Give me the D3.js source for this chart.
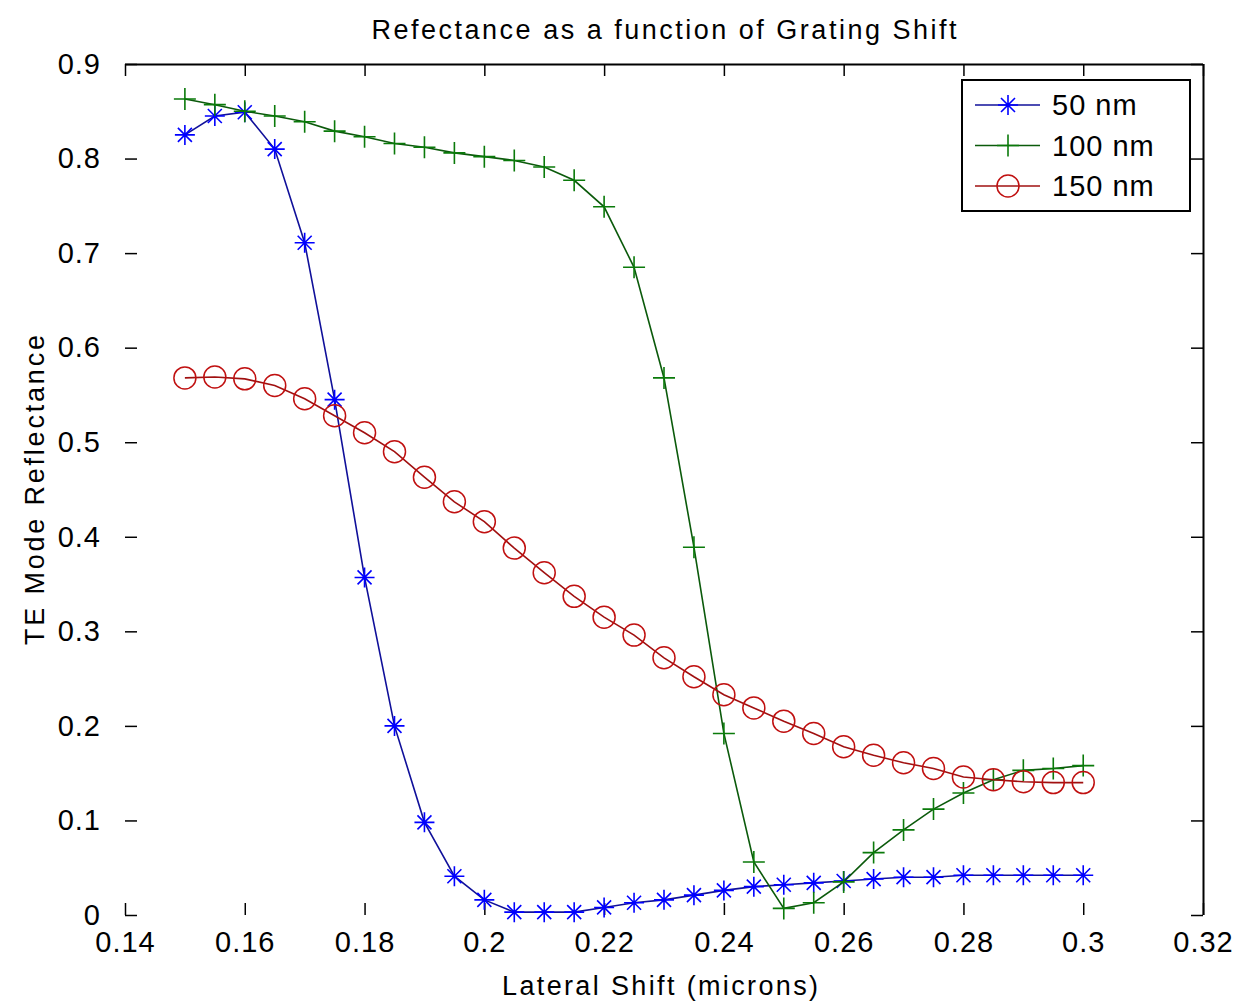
<!DOCTYPE html>
<html><head><meta charset="utf-8">
<script src="https://cdn.jsdelivr.net/npm/d3@7"></script>
<style>
html,body{margin:0;padding:0;background:#fff;}
svg{display:block;font-family:"Liberation Sans",Arial,sans-serif;}
</style></head>
<body><svg id="c" width="1238" height="1002"></svg>
<script>
const shifts = [0.15,0.155,0.16,0.165,0.17,0.175,0.18,0.185,0.19,0.195,0.2,0.205,0.21,0.215,0.22,0.225,0.23,0.235,0.24,0.245,0.25,0.255,0.26,0.265,0.27,0.275,0.28,0.285,0.29,0.295,0.3];
const r50  = [0.825,0.845,0.849,0.810,0.711,0.545,0.357,0.200,0.098,0.041,0.016,0.003,0.003,0.003,0.008,0.013,0.016,0.021,0.026,0.030,0.032,0.034,0.036,0.038,0.040,0.040,0.042,0.042,0.042,0.042,0.042];
const r100 = [0.863,0.857,0.850,0.845,0.839,0.829,0.823,0.816,0.812,0.806,0.802,0.798,0.791,0.777,0.749,0.685,0.568,0.389,0.192,0.056,0.007,0.013,0.035,0.066,0.090,0.112,0.129,0.143,0.153,0.155,0.158];
const r150 = [0.568,0.569,0.567,0.560,0.546,0.528,0.510,0.490,0.463,0.437,0.416,0.388,0.362,0.337,0.315,0.296,0.272,0.252,0.233,0.219,0.205,0.192,0.178,0.169,0.161,0.155,0.146,0.143,0.141,0.140,0.140];
const seriesNames = ["50 nm","100 nm","150 nm"];
const xTicks = [0.14,0.16,0.18,0.2,0.22,0.24,0.26,0.28,0.3,0.32];
const yTicks = [0,0.1,0.2,0.3,0.4,0.5,0.6,0.7,0.8,0.9];
const titleText = "Refectance as a function of Grating Shift";
const xLabel = "Lateral Shift (microns)";
const yLabel = "TE Mode Reflectance";

const L=125,R=1203,T=64,B=915;
const svg = d3.select("#c");
const x = d3.scaleLinear().domain([0.14,0.32]).range([L,R]);
const y = d3.scaleLinear().domain([0,0.9]).range([B,T]);
const fmt = d => String(+d.toFixed(2));

const series = [
  {name:seriesNames[0], vals:r50, color:"#0000ff", line:"#10109a", marker:"star"},
  {name:seriesNames[1], vals:r100, color:"#0a7a0a", line:"#0b5a0b", marker:"plus"},
  {name:seriesNames[2], vals:r150, color:"#c01010", line:"#a01010", marker:"circle"}
];

function drawMarker(g, type, cx, cy, color){
  if(type==="circle"){
    g.append("circle").attr("cx",cx).attr("cy",cy).attr("r",11)
      .attr("fill","none").attr("stroke",color).attr("stroke-width",1.5);
  } else if(type==="plus"){
    const s=11;
    g.append("path").attr("d",`M${cx-s},${cy}H${cx+s}M${cx},${cy-s}V${cy+s}`)
      .attr("stroke",color).attr("stroke-width",1.6).attr("fill","none");
  } else {
    const s=10, d=7;
    g.append("path").attr("d",`M${cx-s},${cy}H${cx+s}M${cx},${cy-s}V${cy+s}M${cx-d},${cy-d}L${cx+d},${cy+d}M${cx-d},${cy+d}L${cx+d},${cy-d}`)
      .attr("stroke",color).attr("stroke-width",1.6).attr("fill","none");
  }
}

// axes ticks (inward), top and right lines
const axL = svg.append("g").attr("transform",`translate(${L},0)`)
  .call(d3.axisLeft(y).tickValues(yTicks).tickSize(-12).tickPadding(22).tickFormat(fmt));
axL.select(".domain").remove();
const axB = svg.append("g").attr("transform",`translate(0,${B})`)
  .call(d3.axisBottom(x).tickValues(xTicks).tickSize(-12).tickPadding(16).tickFormat(fmt));
axB.select(".domain").remove();
const axT = svg.append("g").attr("transform",`translate(0,${T})`)
  .call(d3.axisTop(x).tickValues(xTicks).tickSize(-12).tickFormat(""));
axT.select(".domain").attr("d",`M${L},0.5H${R}`);
const axR = svg.append("g").attr("transform",`translate(${R},0)`)
  .call(d3.axisRight(y).tickValues(yTicks).tickSize(-12).tickFormat(""));
axR.select(".domain").attr("d",`M0.5,${T}V${B}`);
[axL,axB,axT,axR].forEach(a=>{
  a.selectAll("line").attr("stroke","#000").attr("stroke-width",1.5);
  a.selectAll(".domain").attr("stroke","#000").attr("stroke-width",2);
  a.selectAll("text").attr("font-size",29).attr("fill","#000")
   .attr("letter-spacing",1)
   .attr("font-family","'Liberation Sans',Arial,sans-serif");
});
axL.selectAll("text").attr("dx",-2);

// series
const lineGen = d3.line().x(d=>x(d[0])).y(d=>y(d[1]));
series.forEach(s=>{
  const pts = shifts.map((v,i)=>[v,s.vals[i]]);
  const g = svg.append("g");
  g.append("path").datum(pts).attr("d",lineGen).attr("fill","none")
    .attr("stroke",s.line).attr("stroke-width",1.6);
  pts.forEach(p=>drawMarker(g,s.marker,x(p[0]),y(p[1]),s.color));
});

// legend
const lg = svg.append("g");
lg.append("rect").attr("x",962).attr("y",80).attr("width",228).attr("height",131)
  .attr("fill","#fff").attr("stroke","#000").attr("stroke-width",2);
series.forEach((s,i)=>{
  const yy = 105 + i*40.5;
  lg.append("line").attr("x1",975).attr("x2",1040).attr("y1",yy).attr("y2",yy)
    .attr("stroke",s.line).attr("stroke-width",1.6);
  drawMarker(lg,s.marker,1008,yy,s.color);
  lg.append("text").attr("x",1052).attr("y",yy).attr("dy","0.36em")
    .attr("font-size",29).attr("letter-spacing",1).text(s.name);
});

// titles
svg.append("text").attr("x",(L+R)/2).attr("y",39).attr("text-anchor","middle")
  .attr("font-size",27).attr("textLength",585).attr("lengthAdjust","spacing").text(titleText);
svg.append("text").attr("x",660).attr("y",995).attr("text-anchor","middle")
  .attr("font-size",27).attr("textLength",316).attr("lengthAdjust","spacing").text(xLabel);
svg.append("text").attr("transform",`translate(44,490) rotate(-90)`)
  .attr("text-anchor","middle").attr("font-size",27).attr("textLength",310)
  .attr("lengthAdjust","spacing").text(yLabel);
</script></body></html>
